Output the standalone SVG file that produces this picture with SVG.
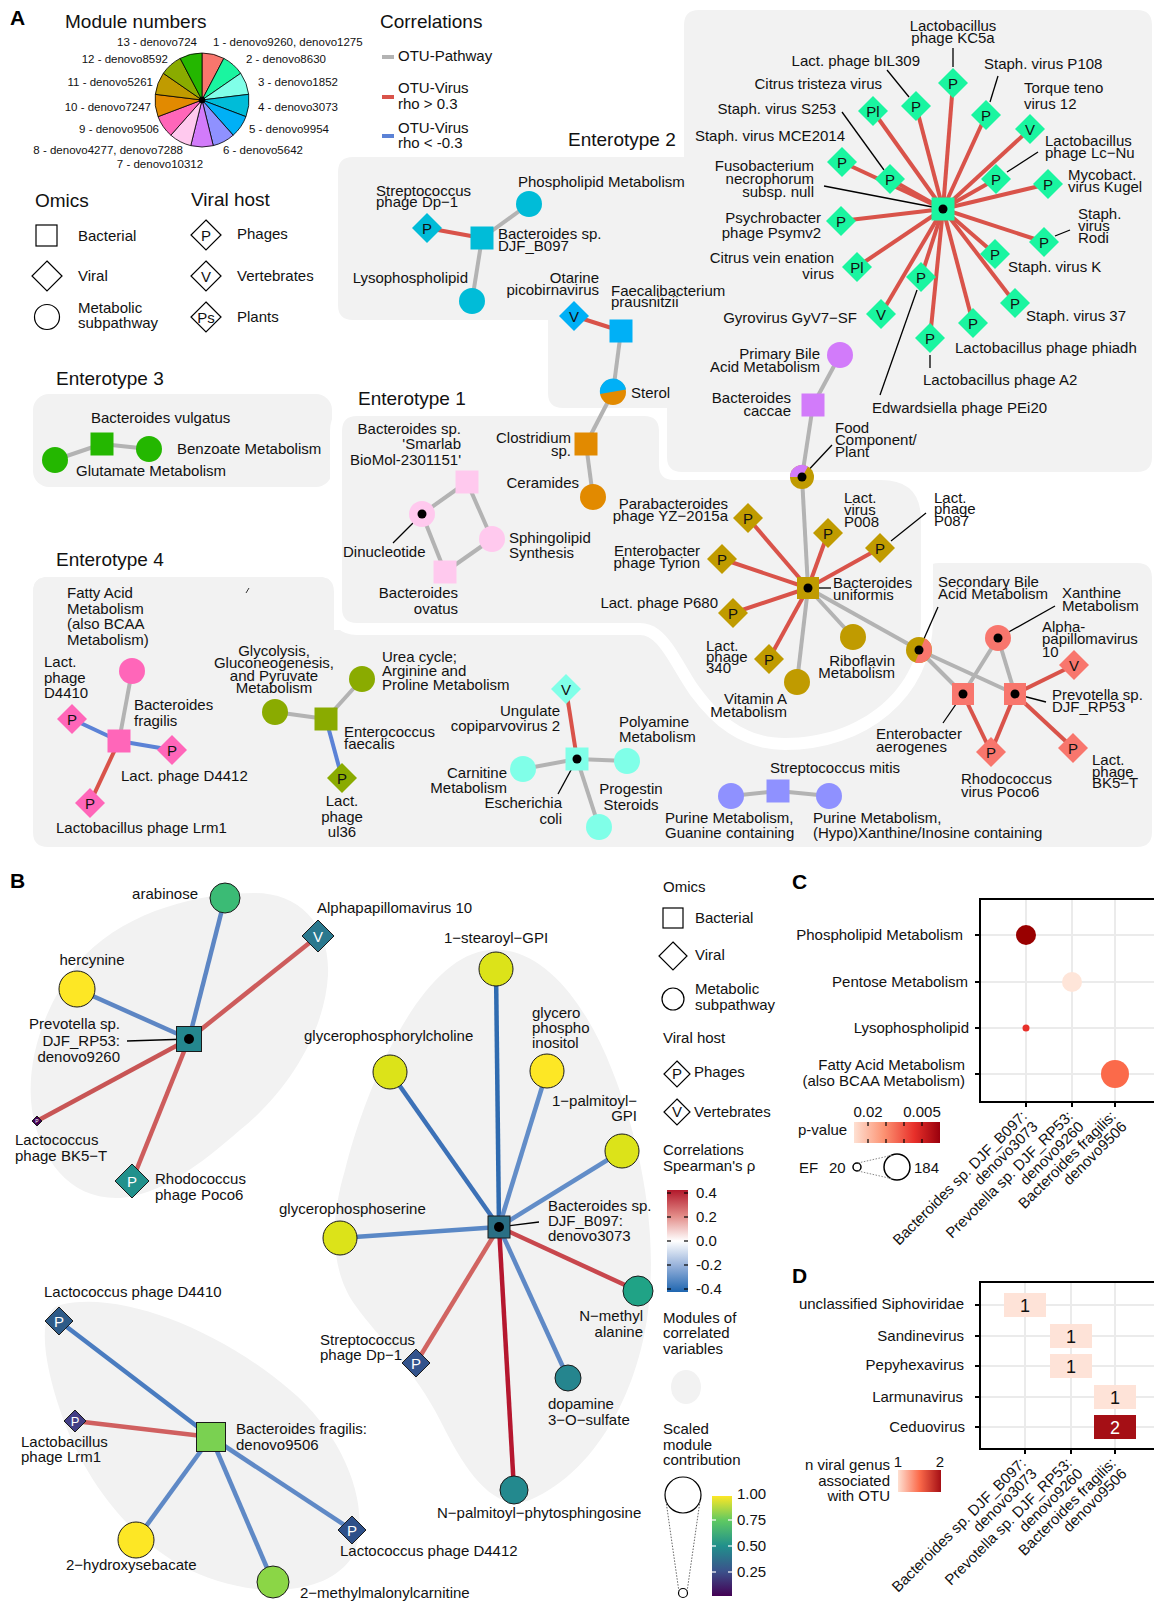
<svg xmlns="http://www.w3.org/2000/svg" width="1154" height="1603" viewBox="0 0 1154 1603">
<defs>
<style>
text{font-family:"Liberation Sans",Arial,Helvetica,sans-serif;fill:#111;font-size:15px}
.s11{font-size:11.5px}
.s19{font-size:19px}
.s18{font-size:18px}
.hd{font-size:21px;font-weight:bold;fill:#000}
.m{text-anchor:middle}
.e{text-anchor:end}
.bg{fill:#F2F2F2}
.eg{stroke:#B3B3B3;stroke-width:4}
.er{stroke:#D9534A;stroke-width:4}
.eb{stroke:#5B82D6;stroke-width:4}
.ld{stroke:#000;stroke-width:1.3;fill:none}
.lg{fill:#fff;stroke:#000;stroke-width:1.2}
.ol{stroke:#1a1a1a;stroke-width:1}
.wt{fill:#fff;text-anchor:middle}
.grid{stroke:#EBEBEB;stroke-width:2}
.c1{fill:#F8766D}.c2{fill:#1AF5A0}.c3{fill:#80FFE8}.c4{fill:#00BCD8}.c5{fill:#00B0F6}.c6{fill:#8F91FF}.c7{fill:#D27BFA}.c8{fill:#FFC9EE}.c9{fill:#FF66B9}.c10{fill:#E28A00}.c11{fill:#C09B00}.c12{fill:#8AAB00}.c13{fill:#24B700}
</style>
<path id="e1p" d="M357,416 L644,416 Q659,416 659,431 L659,465 Q659,480 674,480 L881,480 Q921,480 921,520 L921,620 C921,690 860,738 785,738 C745,738 720,715 700,688 C680,660 668,623 640,623 L357,623 Q342,623 342,608 L342,431 Q342,416 357,416 Z"/>
<linearGradient id="rb" x1="0" y1="0" x2="0" y2="1"><stop offset="0" stop-color="#B2182B"/><stop offset="0.25" stop-color="#E28A86"/><stop offset="0.5" stop-color="#FFFFFF"/><stop offset="0.75" stop-color="#93AFD9"/><stop offset="1" stop-color="#1F66B0"/></linearGradient>
<linearGradient id="vir" x1="0" y1="1" x2="0" y2="0"><stop offset="0" stop-color="#440154"/><stop offset="0.25" stop-color="#3B528B"/><stop offset="0.5" stop-color="#21908C"/><stop offset="0.75" stop-color="#5DC863"/><stop offset="1" stop-color="#FDE725"/></linearGradient>
<linearGradient id="pv" x1="0" y1="0" x2="1" y2="0"><stop offset="0" stop-color="#FEE0D2"/><stop offset="0.35" stop-color="#FC9272"/><stop offset="0.7" stop-color="#E8302A"/><stop offset="1" stop-color="#99000D"/></linearGradient>
<linearGradient id="nv" x1="0" y1="0" x2="1" y2="0"><stop offset="0" stop-color="#FEE0D2"/><stop offset="0.5" stop-color="#FB6A4A"/><stop offset="1" stop-color="#A50F15"/></linearGradient>
</defs>
<rect width="1154" height="1603" fill="#fff"/>

<!-- ===== Panel A backgrounds ===== -->
<g id="enterotype-backgrounds">
<path class="bg" d="M48,577 L319,577 Q334,577 334,592 L334,630 L924,630 L924,578 Q924,563 939,563 L1137,563 Q1152,563 1152,578 L1152,832 Q1152,847 1137,847 L48,847 Q33,847 33,832 L33,592 Q33,577 48,577 Z"/>
<rect class="bg" x="33" y="394" width="299" height="93" rx="16"/>
<use href="#e1p" fill="#F2F2F2" stroke="#fff" stroke-width="24"/>
<use href="#e1p" fill="#F2F2F2"/>
<path class="bg" d="M48,577 L319,577 Q334,577 334,592 L334,700 L33,700 L33,592 Q33,577 48,577 Z"/>
<path class="bg" d="M353,157 L684,157 L684,25 Q684,10 699,10 L1137,10 Q1152,10 1152,25 L1152,457 Q1152,472 1137,472 L682,472 Q667,472 667,457 L667,408 L563,408 Q548,408 548,393 L548,320 L353,320 Q338,320 338,305 L338,172 Q338,157 353,157 Z"/>
<line x1="246" y1="593" x2="249" y2="588" stroke="#333" stroke-width="1"/>
</g>

<!-- ===== Panel A titles and legends ===== -->
<g id="legend-A">
<text class="hd" x="10" y="25">A</text>
<text class="s19" x="65" y="28">Module numbers</text>
<g id="pie" stroke="#000" stroke-width="0.8">
<path class="c1" d="M202,100L202,53A47,47 0 0,1 223.84,58.38Z"/>
<path class="c2" d="M202,100L223.84,58.38A47,47 0 0,1 240.68,73.3Z"/>
<path class="c3" d="M202,100L240.68,73.3A47,47 0 0,1 248.66,94.34Z"/>
<path class="c4" d="M202,100L248.66,94.34A47,47 0 0,1 245.95,116.67Z"/>
<path class="c5" d="M202,100L245.95,116.67A47,47 0 0,1 233.17,135.18Z"/>
<path class="c6" d="M202,100L233.17,135.18A47,47 0 0,1 213.25,145.63Z"/>
<path class="c7" d="M202,100L213.25,145.63A47,47 0 0,1 190.75,145.63Z"/>
<path class="c8" d="M202,100L190.75,145.63A47,47 0 0,1 170.83,135.18Z"/>
<path class="c9" d="M202,100L170.83,135.18A47,47 0 0,1 158.05,116.67Z"/>
<path class="c10" d="M202,100L158.05,116.67A47,47 0 0,1 155.34,94.34Z"/>
<path class="c11" d="M202,100L155.34,94.34A47,47 0 0,1 163.32,73.3Z"/>
<path class="c12" d="M202,100L163.32,73.3A47,47 0 0,1 180.16,58.38Z"/>
<path class="c13" d="M202,100L180.16,58.38A47,47 0 0,1 202,53Z"/>
<circle cx="202" cy="100" r="3" fill="#000"/>
</g>
<text class="s11 e" x="197" y="46">13 - denovo724</text>
<text class="s11" x="213" y="46">1 - denovo9260, denovo1275</text>
<text class="s11 e" x="168" y="63">12 - denovo8592</text>
<text class="s11" x="246" y="63">2 - denovo8630</text>
<text class="s11 e" x="153" y="86">11 - denovo5261</text>
<text class="s11" x="258" y="86">3 - denovo1852</text>
<text class="s11 e" x="151" y="111">10 - denovo7247</text>
<text class="s11" x="258" y="111">4 - denovo3073</text>
<text class="s11 e" x="159" y="133">9 - denovo9506</text>
<text class="s11" x="249" y="133">5 - denovo9954</text>
<text class="s11 e" x="183" y="154">8 - denovo4277, denovo7288</text>
<text class="s11" x="223" y="154">6 - denovo5642</text>
<text class="s11 m" x="160" y="168">7 - denovo10312</text>

<text class="s19" x="380" y="28">Correlations</text>
<line x1="382" y1="57" x2="394" y2="57" class="eg"/>
<text x="398" y="61">OTU-Pathway</text>
<line x1="382" y1="97" x2="394" y2="97" class="er"/>
<text x="398" y="93">OTU-Virus<tspan x="398" y="109">rho &gt; 0.3</tspan></text>
<line x1="382" y1="136" x2="394" y2="136" class="eb"/>
<text x="398" y="133">OTU-Virus<tspan x="398" y="148">rho &lt; -0.3</tspan></text>

<text class="s19" x="35" y="207">Omics</text>
<rect class="lg" x="36" y="225" width="21" height="21"/>
<text x="78" y="241">Bacterial</text>
<path class="lg" d="M47,261l15,15-15,15-15-15z"/>
<text x="78" y="281">Viral</text>
<circle class="lg" cx="47" cy="317" r="12.5"/>
<text x="78" y="313">Metabolic<tspan x="78" y="328">subpathway</tspan></text>
<text class="s19" x="191" y="206">Viral host</text>
<path class="lg" d="M206,220l15,15-15,15-15-15z"/>
<text class="m" x="206" y="240.5">P</text>
<text x="237" y="239">Phages</text>
<path class="lg" d="M206,261l15,15-15,15-15-15z"/>
<text class="m" x="206" y="281.5">V</text>
<text x="237" y="281">Vertebrates</text>
<path class="lg" d="M206,302l15,15-15,15-15-15z"/>
<text class="m" x="206" y="322.5">Ps</text>
<text x="237" y="322">Plants</text>

<text class="s19" x="56" y="385">Enterotype 3</text>
<text class="s19" x="568" y="146">Enterotype 2</text>
<text class="s19" x="358" y="405">Enterotype 1</text>
<text class="s19" x="56" y="566">Enterotype 4</text>
</g>

<!-- ===== Panel A connectors ===== -->
<g id="connectors-A">
<line class="eg" x1="102" y1="444" x2="55" y2="460"/>
<line class="eg" x1="102" y1="444" x2="149" y2="449"/>
<line class="er" x1="427" y1="228" x2="482" y2="238"/>
<line class="eg" x1="482" y1="238" x2="529" y2="204"/>
<line class="eg" x1="482" y1="238" x2="472" y2="301"/>
<line class="er" x1="574" y1="316" x2="621" y2="331"/>
<line class="eg" x1="621" y1="331" x2="613" y2="392"/>
<line class="eg" x1="613" y1="392" x2="586" y2="444"/>
<line class="eg" x1="586" y1="444" x2="593" y2="497"/>
<g class="er">
<line x1="943" y1="209" x2="953" y2="83"/>
<line x1="943" y1="209" x2="916" y2="106"/>
<line x1="943" y1="209" x2="873" y2="111"/>
<line x1="943" y1="209" x2="986" y2="115"/>
<line x1="943" y1="209" x2="1030" y2="129"/>
<line x1="943" y1="209" x2="842" y2="162"/>
<line x1="943" y1="209" x2="890" y2="179"/>
<line x1="943" y1="209" x2="996" y2="179"/>
<line x1="943" y1="209" x2="1048" y2="184"/>
<line x1="943" y1="209" x2="841" y2="221"/>
<line x1="943" y1="209" x2="1044" y2="242"/>
<line x1="943" y1="209" x2="857" y2="267"/>
<line x1="943" y1="209" x2="995" y2="254"/>
<line x1="943" y1="209" x2="921" y2="277"/>
<line x1="943" y1="209" x2="881" y2="314"/>
<line x1="943" y1="209" x2="1015" y2="303"/>
<line x1="943" y1="209" x2="973" y2="323"/>
<line x1="943" y1="209" x2="930" y2="338"/>
</g>
<line class="eg" x1="840" y1="355" x2="813" y2="405"/>
<line class="eg" x1="813" y1="405" x2="802" y2="477"/>
<line class="eg" x1="802" y1="477" x2="808" y2="588"/>
<line class="eg" x1="422" y1="514" x2="467" y2="482"/>
<line class="eg" x1="467" y1="482" x2="492" y2="539"/>
<line class="eg" x1="492" y1="539" x2="445" y2="572"/>
<line class="eg" x1="445" y1="572" x2="422" y2="514"/>
<g class="er">
<line x1="808" y1="588" x2="748" y2="518"/>
<line x1="808" y1="588" x2="828" y2="533"/>
<line x1="808" y1="588" x2="880" y2="548"/>
<line x1="808" y1="588" x2="722" y2="559"/>
<line x1="808" y1="588" x2="733" y2="613"/>
<line x1="808" y1="588" x2="769" y2="659"/>
</g>
<line class="eg" x1="808" y1="588" x2="797" y2="682"/>
<line class="eg" x1="808" y1="588" x2="853" y2="637"/>
<line class="eg" x1="808" y1="588" x2="919" y2="650"/>
<line class="eg" x1="919" y1="650" x2="963" y2="694"/>
<line class="eg" x1="919" y1="650" x2="1015" y2="694"/>
<line class="eg" x1="998" y1="638" x2="963" y2="694"/>
<line class="eg" x1="998" y1="638" x2="1015" y2="694"/>
<line class="er" x1="1015" y1="694" x2="1074" y2="665"/>
<line class="er" x1="1015" y1="694" x2="991" y2="752"/>
<line class="er" x1="1015" y1="694" x2="1073" y2="748"/>
<line class="er" x1="963" y1="694" x2="991" y2="752"/>
<line class="eg" x1="731" y1="796" x2="778" y2="791"/>
<line class="eg" x1="778" y1="791" x2="829" y2="796"/>
<line class="er" x1="566" y1="689" x2="577" y2="759"/>
<line class="eg" x1="577" y1="759" x2="523" y2="769"/>
<line class="eg" x1="577" y1="759" x2="627" y2="761"/>
<line class="eg" x1="577" y1="759" x2="599" y2="827"/>
<line class="eg" x1="326" y1="719" x2="275" y2="712"/>
<line class="eg" x1="326" y1="719" x2="362" y2="679"/>
<line class="eb" x1="326" y1="719" x2="342" y2="778"/>
<line class="eg" x1="119" y1="741" x2="132" y2="671"/>
<line class="eb" x1="119" y1="741" x2="72" y2="719"/>
<line class="eb" x1="119" y1="741" x2="172" y2="750"/>
<line class="er" x1="119" y1="741" x2="90" y2="803"/>
<!-- leader lines -->
<g class="ld">
<line x1="953" y1="48" x2="953" y2="67"/>
<line x1="887" y1="70" x2="909" y2="97"/>
<line x1="998" y1="76" x2="990" y2="102"/>
<line x1="842" y1="112" x2="884" y2="170"/>
<line x1="824" y1="186" x2="943" y2="209"/>
<line x1="1038" y1="152" x2="1007" y2="172"/>
<line x1="1055" y1="236" x2="1070" y2="230"/>
<line x1="917" y1="290" x2="880" y2="395"/>
<line x1="930" y1="355" x2="930" y2="368"/>
<line x1="832" y1="445" x2="802" y2="477"/>
<line x1="422" y1="514" x2="393" y2="543"/>
<line x1="577" y1="759" x2="558" y2="794"/>
<line x1="808" y1="588" x2="831" y2="588"/>
<line x1="919" y1="650" x2="938" y2="607"/>
<line x1="998" y1="638" x2="1055" y2="606"/>
<line x1="963" y1="694" x2="943" y2="723"/>
<line x1="1015" y1="694" x2="1046" y2="702"/>
<line x1="891" y1="541" x2="926" y2="513"/>
</g>
</g>

<!-- ===== Panel A nodes ===== -->
<g id="nodes-A">
<g id="n-vulgatus"><rect class="c13" x="90.5" y="432.5" width="23" height="23"/><text x="91" y="423">Bacteroides vulgatus</text></g>
<g id="n-glutamate"><circle class="c13" cx="55" cy="460" r="13"/><text x="76" y="476">Glutamate Metabolism</text></g>
<g id="n-benzoate"><circle class="c13" cx="149" cy="449" r="13"/><text x="177" y="454">Benzoate Metabolism</text></g>

<g id="n-dp1"><path class="c4" d="M427,213l15,15-15,15-15-15z"/><text class="m" x="427" y="233.5">P</text><text x="376" y="196">Streptococcus<tspan x="376" y="207">phage Dp−1</tspan></text></g>
<g id="n-b097"><rect class="c4" x="470.5" y="226.5" width="23" height="23"/><text x="498" y="239">Bacteroides sp.<tspan x="498" y="251">DJF_B097</tspan></text></g>
<g id="n-phospho"><circle class="c4" cx="529" cy="204" r="13"/><text x="518" y="187">Phospholipid Metabolism</text></g>
<g id="n-lyso"><circle class="c4" cx="472" cy="301" r="13"/><text class="e" x="468" y="283">Lysophospholipid</text></g>
<g id="n-otarine"><path class="c5" d="M574,301l15,15-15,15-15-15z"/><text class="m" x="574" y="321.5">V</text><text class="e" x="599" y="283">Otarine<tspan x="599" y="295">picobirnavirus</tspan></text></g>
<g id="n-faecali"><rect class="c5" x="609.5" y="319.5" width="23" height="23"/><text x="611" y="296">Faecalibacterium<tspan x="611" y="307">prausnitzii</tspan></text></g>
<g id="n-sterol"><circle class="c10" cx="613" cy="392" r="13"/><path class="c5" d="M600,394A13,13 0 0,1 626,389.5Z"/><text x="631" y="398">Sterol</text></g>
<g id="n-clostridium"><rect class="c10" x="574.5" y="432.5" width="23" height="23"/><text class="e" x="571" y="443">Clostridium<tspan x="571" y="456">sp.</tspan></text></g>
<g id="n-ceramides"><circle class="c10" cx="593" cy="497" r="13"/><text class="e" x="579" y="488">Ceramides</text></g>

<g id="n-fuso"><rect class="c2" x="931.5" y="197.5" width="23" height="23"/><circle cx="943" cy="209" r="4.5" fill="#000"/><text class="e" x="814" y="171">Fusobacterium<tspan x="814" y="184">necrophorum</tspan><tspan x="814" y="197">subsp. null</tspan></text></g>
<g id="n-kc5a"><path class="c2" d="M953,68l15,15-15,15-15-15z"/><text class="m" x="953" y="88.5">P</text><text class="m" x="953" y="31">Lactobacillus<tspan x="953" y="43">phage KC5a</tspan></text></g>
<g id="n-bil309"><path class="c2" d="M916,91l15,15-15,15-15-15z"/><text class="m" x="916" y="111.5">P</text><text class="e" x="920" y="66">Lact. phage bIL309</text></g>
<g id="n-ctv"><path class="c2" d="M873,96l15,15-15,15-15-15z"/><text class="m" x="873" y="116.5">Pl</text><text class="e" x="882" y="89">Citrus tristeza virus</text></g>
<g id="n-p108"><path class="c2" d="M986,100l15,15-15,15-15-15z"/><text class="m" x="986" y="120.5">P</text><text x="984" y="69">Staph. virus P108</text></g>
<g id="n-ttv"><path class="c2" d="M1030,114l15,15-15,15-15-15z"/><text class="m" x="1030" y="134.5">V</text><text x="1024" y="93">Torque teno<tspan x="1024" y="109">virus 12</tspan></text></g>
<g id="n-mce"><path class="c2" d="M842,147l15,15-15,15-15-15z"/><text class="m" x="842" y="167.5">P</text><text class="e" x="845" y="141">Staph. virus MCE2014</text></g>
<g id="n-s253"><path class="c2" d="M890,164l15,15-15,15-15-15z"/><text class="m" x="890" y="184.5">P</text><text class="e" x="836" y="114">Staph. virus S253</text></g>
<g id="n-lcnu"><path class="c2" d="M996,164l15,15-15,15-15-15z"/><text class="m" x="996" y="184.5">P</text><text x="1045" y="146">Lactobacillus<tspan x="1045" y="158">phage Lc−Nu</tspan></text></g>
<g id="n-kugel"><path class="c2" d="M1048,169l15,15-15,15-15-15z"/><text class="m" x="1048" y="189.5">P</text><text x="1068" y="180">Mycobact.<tspan x="1068" y="192">virus Kugel</tspan></text></g>
<g id="n-psymv2"><path class="c2" d="M841,206l15,15-15,15-15-15z"/><text class="m" x="841" y="226.5">P</text><text class="e" x="821" y="223">Psychrobacter<tspan x="821" y="238">phage Psymv2</tspan></text></g>
<g id="n-rodi"><path class="c2" d="M1044,227l15,15-15,15-15-15z"/><text class="m" x="1044" y="247.5">P</text><text x="1078" y="219">Staph.<tspan x="1078" y="231">virus</tspan><tspan x="1078" y="243">Rodi</tspan></text></g>
<g id="n-cvev"><path class="c2" d="M857,252l15,15-15,15-15-15z"/><text class="m" x="857" y="272.5">Pl</text><text class="e" x="834" y="263">Citrus vein enation<tspan x="834" y="279">virus</tspan></text></g>
<g id="n-staphk"><path class="c2" d="M995,239l15,15-15,15-15-15z"/><text class="m" x="995" y="259.5">P</text><text x="1008" y="272">Staph. virus K</text></g>
<g id="n-pei20"><path class="c2" d="M921,262l15,15-15,15-15-15z"/><text class="m" x="921" y="282.5">P</text><text x="872" y="413">Edwardsiella phage PEi20</text></g>
<g id="n-gyv"><path class="c2" d="M881,299l15,15-15,15-15-15z"/><text class="m" x="881" y="319.5">V</text><text class="e" x="857" y="323">Gyrovirus GyV7−SF</text></g>
<g id="n-s37"><path class="c2" d="M1015,288l15,15-15,15-15-15z"/><text class="m" x="1015" y="308.5">P</text><text x="1026" y="321">Staph. virus 37</text></g>
<g id="n-phiadh"><path class="c2" d="M973,308l15,15-15,15-15-15z"/><text class="m" x="973" y="328.5">P</text><text x="955" y="353">Lactobacillus phage phiadh</text></g>
<g id="n-a2"><path class="c2" d="M930,323l15,15-15,15-15-15z"/><text class="m" x="930" y="343.5">P</text><text x="923" y="385">Lactobacillus phage A2</text></g>

<g id="n-primbile"><circle class="c7" cx="840" cy="355" r="13"/><text class="e" x="820" y="359">Primary Bile<tspan x="820" y="372">Acid Metabolism</tspan></text></g>
<g id="n-caccae"><rect class="c7" x="801.5" y="393.5" width="23" height="23"/><text class="e" x="791" y="403">Bacteroides<tspan x="791" y="416">caccae</tspan></text></g>
<g id="n-food"><circle class="c11" cx="802" cy="477" r="12"/><path class="c7" d="M802,477L790,477A12,12 0 0,1 808,466.6Z"/><circle cx="802" cy="477" r="4.5" fill="#000"/><text x="835" y="433">Food<tspan x="835" y="445">Component/</tspan><tspan x="835" y="457">Plant</tspan></text></g>

<g id="n-smarlab"><rect class="c8" x="455.5" y="470.5" width="23" height="23"/><text class="e" x="461" y="434">Bacteroides sp.<tspan x="461" y="449">'Smarlab</tspan><tspan x="461" y="465">BioMol-2301151'</tspan></text></g>
<g id="n-dinuc"><circle class="c8" cx="422" cy="514" r="13"/><circle cx="422" cy="514" r="4.5" fill="#000"/><text x="343" y="557">Dinucleotide</text></g>
<g id="n-sphingo"><circle class="c8" cx="492" cy="539" r="13"/><text x="509" y="543">Sphingolipid<tspan x="509" y="558">Synthesis</tspan></text></g>
<g id="n-ovatus"><rect class="c8" x="433.5" y="560.5" width="23" height="23"/><text class="e" x="458" y="598">Bacteroides<tspan x="458" y="614">ovatus</tspan></text></g>

<g id="n-uniformis"><rect class="c11" x="797" y="577" width="22" height="22"/><circle cx="808" cy="588" r="4.5" fill="#000"/><text x="833" y="588">Bacteroides<tspan x="833" y="600">uniformis</tspan></text></g>
<g id="n-yz2015a"><path class="c11" d="M748,503l15,15-15,15-15-15z"/><text class="m" x="748" y="523.5">P</text><text class="e" x="728" y="509">Parabacteroides<tspan x="728" y="521">phage YZ−2015a</tspan></text></g>
<g id="n-p008"><path class="c11" d="M828,518l15,15-15,15-15-15z"/><text class="m" x="828" y="538.5">P</text><text x="844" y="503">Lact.<tspan x="844" y="515">virus</tspan><tspan x="844" y="527">P008</tspan></text></g>
<g id="n-p087"><path class="c11" d="M880,533l15,15-15,15-15-15z"/><text class="m" x="880" y="553.5">P</text><text x="934" y="503">Lact.<tspan x="934" y="514">phage</tspan><tspan x="934" y="526">P087</tspan></text></g>
<g id="n-tyrion"><path class="c11" d="M722,544l15,15-15,15-15-15z"/><text class="m" x="722" y="564.5">P</text><text class="e" x="700" y="556">Enterobacter<tspan x="700" y="568">phage Tyrion</tspan></text></g>
<g id="n-p680"><path class="c11" d="M733,598l15,15-15,15-15-15z"/><text class="m" x="733" y="618.5">P</text><text class="e" x="718" y="608">Lact. phage P680</text></g>
<g id="n-340"><path class="c11" d="M769,644l15,15-15,15-15-15z"/><text class="m" x="769" y="664.5">P</text><text x="706" y="651">Lact.<tspan x="706" y="662">phage</tspan><tspan x="706" y="673">340</tspan></text></g>
<g id="n-ribo"><circle class="c11" cx="853" cy="637" r="13"/><text class="e" x="895" y="666">Riboflavin<tspan x="895" y="678">Metabolism</tspan></text></g>
<g id="n-vitA"><circle class="c11" cx="797" cy="682" r="13"/><text class="e" x="787" y="704">Vitamin A<tspan x="787" y="717">Metabolism</tspan></text></g>

<g id="n-secbile"><circle class="c11" cx="919" cy="650" r="13"/><path class="c1" d="M925,638.5A13,13 0 0,1 915,662.4Z"/><circle cx="919" cy="650" r="4.5" fill="#000"/><text x="938" y="587">Secondary Bile<tspan x="938" y="599">Acid Metabolism</tspan></text></g>
<g id="n-xanthine"><circle class="c1" cx="998" cy="638" r="13"/><circle cx="998" cy="638" r="4.5" fill="#000"/><text x="1062" y="598">Xanthine<tspan x="1062" y="611">Metabolism</tspan></text></g>
<g id="n-alpha"><path class="c1" d="M1074,650l15,15-15,15-15-15z"/><text class="m" x="1074" y="670.5">V</text><text x="1042" y="632">Alpha-<tspan x="1042" y="644">papillomavirus</tspan><tspan x="1042" y="657">10</tspan></text></g>
<g id="n-aerogenes"><rect class="c1" x="952" y="683" width="22" height="22"/><circle cx="963" cy="694" r="4.5" fill="#000"/><text x="876" y="739">Enterobacter<tspan x="876" y="752">aerogenes</tspan></text></g>
<g id="n-prevotella"><rect class="c1" x="1004" y="683" width="22" height="22"/><circle cx="1015" cy="694" r="4.5" fill="#000"/><text x="1052" y="700">Prevotella sp.<tspan x="1052" y="712">DJF_RP53</tspan></text></g>
<g id="n-poco6"><path class="c1" d="M991,737l15,15-15,15-15-15z"/><text class="m" x="991" y="757.5">P</text><text x="961" y="784">Rhodococcus<tspan x="961" y="797">virus Poco6</tspan></text></g>
<g id="n-bk5t"><path class="c1" d="M1073,733l15,15-15,15-15-15z"/><text class="m" x="1073" y="753.5">P</text><text x="1092" y="765">Lact.<tspan x="1092" y="777">phage</tspan><tspan x="1092" y="788">BK5−T</tspan></text></g>

<g id="n-mitis"><rect class="c6" x="766.5" y="779.5" width="23" height="23"/><text x="770" y="773">Streptococcus mitis</text></g>
<g id="n-purg"><circle class="c6" cx="731" cy="796" r="13"/><text x="665" y="823">Purine Metabolism,<tspan x="665" y="838">Guanine containing</tspan></text></g>
<g id="n-purx"><circle class="c6" cx="829" cy="796" r="13"/><text x="813" y="823">Purine Metabolism,<tspan x="813" y="838">(Hypo)Xanthine/Inosine containing</tspan></text></g>

<g id="n-ecoli"><rect class="c3" x="565.5" y="747.5" width="23" height="23"/><circle cx="577" cy="759" r="4.5" fill="#000"/><text class="e" x="562" y="808">Escherichia<tspan x="562" y="824">coli</tspan></text></g>
<g id="n-ungulate"><path class="c3" d="M566,674l15,15-15,15-15-15z"/><text class="m" x="566" y="694.5">V</text><text class="e" x="560" y="716">Ungulate<tspan x="560" y="731">copiparvovirus 2</tspan></text></g>
<g id="n-carnitine"><circle class="c3" cx="523" cy="769" r="13"/><text class="e" x="507" y="778">Carnitine<tspan x="507" y="793">Metabolism</tspan></text></g>
<g id="n-polyamine"><circle class="c3" cx="627" cy="761" r="13"/><text x="619" y="727">Polyamine<tspan x="619" y="742">Metabolism</tspan></text></g>
<g id="n-progestin"><circle class="c3" cx="599" cy="827" r="13"/><text class="m" x="631" y="794">Progestin<tspan x="631" y="810">Steroids</tspan></text></g>

<g id="n-enterococcus"><rect class="c12" x="314.5" y="707.5" width="23" height="23"/><text x="344" y="737">Enterococcus<tspan x="344" y="749">faecalis</tspan></text></g>
<g id="n-glycolysis"><circle class="c12" cx="275" cy="712" r="13"/><text class="m" x="274" y="656">Glycolysis,<tspan x="274" y="668">Gluconeogenesis,</tspan><tspan x="274" y="681">and Pyruvate</tspan><tspan x="274" y="693">Metabolism</tspan></text></g>
<g id="n-urea"><circle class="c12" cx="362" cy="679" r="13"/><text x="382" y="662">Urea cycle;<tspan x="382" y="676">Arginine and</tspan><tspan x="382" y="690">Proline Metabolism</tspan></text></g>
<g id="n-ul36"><path class="c12" d="M342,763l15,15-15,15-15-15z"/><text class="m" x="342" y="783.5">P</text><text class="m" x="342" y="806">Lact.<tspan x="342" y="822">phage</tspan><tspan x="342" y="837">ul36</tspan></text></g>

<g id="n-fragilis"><rect class="c9" x="107.5" y="729.5" width="23" height="23"/><text x="134" y="710">Bacteroides<tspan x="134" y="726">fragilis</tspan></text></g>
<g id="n-fatty"><circle class="c9" cx="132" cy="671" r="13"/><text x="67" y="598">Fatty Acid<tspan x="67" y="614">Metabolism</tspan><tspan x="67" y="629">(also BCAA</tspan><tspan x="67" y="645">Metabolism)</tspan></text></g>
<g id="n-d4410"><path class="c9" d="M72,704l15,15-15,15-15-15z"/><text class="m" x="72" y="724.5">P</text><text x="44" y="667">Lact.<tspan x="44" y="683">phage</tspan><tspan x="44" y="698">D4410</tspan></text></g>
<g id="n-d4412"><path class="c9" d="M172,735l15,15-15,15-15-15z"/><text class="m" x="172" y="755.5">P</text><text x="121" y="781">Lact. phage D4412</text></g>
<g id="n-lrm1"><path class="c9" d="M90,788l15,15-15,15-15-15z"/><text class="m" x="90" y="808.5">P</text><text x="56" y="833">Lactobacillus phage Lrm1</text></g>
</g>

<!-- ===== Panel B ===== -->
<g id="panel-B">
<text class="hd" x="10" y="888">B</text>
<g id="hulls" class="bg">
<path d="M255,893 C300,893 330,925 328,975 C325,1030 290,1090 240,1130 C200,1165 160,1195 120,1198 C70,1200 40,1160 32,1110 C25,1060 45,1000 85,955 C130,910 200,893 255,893 Z"/>
<path d="M490,950 C540,945 585,1000 612,1070 C640,1140 655,1220 650,1290 C645,1380 600,1470 530,1500 C490,1515 460,1460 440,1420 C415,1370 380,1340 355,1305 C330,1270 330,1220 345,1170 C365,1090 420,955 490,950 Z"/>
<path d="M60,1305 C120,1290 220,1330 290,1390 C350,1440 375,1520 350,1560 C320,1600 240,1598 180,1565 C120,1530 80,1470 60,1410 C45,1365 35,1312 60,1305 Z"/>
</g>
<g id="connectors-B" stroke-width="4.5">
<line x1="189" y1="1039" x2="225" y2="898" stroke="#5D86C4"/>
<line x1="189" y1="1039" x2="77" y2="989" stroke="#5D86C4"/>
<line x1="189" y1="1039" x2="318" y2="936" stroke="#CD5C5C"/>
<line x1="189" y1="1039" x2="37" y2="1121" stroke="#C85555"/>
<line x1="189" y1="1039" x2="132" y2="1181" stroke="#CD5C5C"/>
<line x1="499" y1="1227" x2="496" y2="969" stroke="#2F6BB0"/>
<line x1="499" y1="1227" x2="390" y2="1072" stroke="#3C71B7"/>
<line x1="499" y1="1227" x2="547" y2="1071" stroke="#628DC8"/>
<line x1="499" y1="1227" x2="622" y2="1151" stroke="#628DC8"/>
<line x1="499" y1="1227" x2="340" y2="1238" stroke="#5A88C6"/>
<line x1="499" y1="1227" x2="638" y2="1291" stroke="#C8474D"/>
<line x1="499" y1="1227" x2="416" y2="1363" stroke="#D16461"/>
<line x1="499" y1="1227" x2="514" y2="1490" stroke="#B5172F"/>
<line x1="499" y1="1227" x2="568" y2="1378" stroke="#5F89C6"/>
<line x1="211" y1="1437" x2="59" y2="1321" stroke="#4A7CC0"/>
<line x1="211" y1="1437" x2="75" y2="1421" stroke="#D06060"/>
<line x1="211" y1="1437" x2="136" y2="1540" stroke="#5F89C6"/>
<line x1="211" y1="1437" x2="273" y2="1582" stroke="#5F89C6"/>
<line x1="211" y1="1437" x2="352" y2="1530" stroke="#5F89C6"/>
<line class="ld" x1="127" y1="1041" x2="189" y2="1039"/>
<line class="ld" x1="499" y1="1227" x2="539" y2="1222"/>
</g>
<g id="nodes-B">
<g id="b-prevotella"><rect class="ol" x="176.5" y="1026.5" width="25" height="25" fill="#24878E"/><circle cx="189" cy="1039" r="5" fill="#000"/><text class="e" x="120" y="1029">Prevotella sp.<tspan x="120" y="1046">DJF_RP53:</tspan><tspan x="120" y="1062">denovo9260</tspan></text></g>
<g id="b-arabinose"><circle class="ol" cx="225" cy="898" r="15" fill="#3BBB75"/><text class="e" x="198" y="899">arabinose</text></g>
<g id="b-hercynine"><circle class="ol" cx="77" cy="989" r="18" fill="#FDE725"/><text class="m" x="92" y="965">hercynine</text></g>
<g id="b-alpha"><path class="ol" fill="#2A788E" d="M318,920l16,16-16,16-16-16z"/><text class="wt" x="318" y="941.5">V</text><text x="317" y="913">Alphapapillomavirus 10</text></g>
<g id="b-bk5t"><path class="ol" fill="#440154" stroke-width="0.6" d="M37,1116l5,5-5,5-5-5z"/><text class="wt" x="37" y="1123" style="font-size:5px">P</text><text x="15" y="1145">Lactococcus<tspan x="15" y="1161">phage BK5−T</tspan></text></g>
<g id="b-poco6"><path class="ol" fill="#21918C" d="M132,1164l17,17-17,17-17-17z"/><text class="wt" x="132" y="1186.5">P</text><text x="155" y="1184">Rhodococcus<tspan x="155" y="1200">phage Poco6</tspan></text></g>

<g id="b-b097"><rect class="ol" x="488" y="1216" width="22" height="22" fill="#2A6F85"/><circle cx="499" cy="1227" r="5" fill="#000"/><text x="548" y="1211">Bacteroides sp.<tspan x="548" y="1226">DJF_B097:</tspan><tspan x="548" y="1241">denovo3073</tspan></text></g>
<g id="b-stearoyl"><circle class="ol" cx="496" cy="969" r="17" fill="#DCE319"/><text class="m" x="496" y="943">1−stearoyl−GPI</text></g>
<g id="b-gpc"><circle class="ol" cx="390" cy="1072" r="17" fill="#DCE319"/><text x="304" y="1041">glycerophosphorylcholine</text></g>
<g id="b-gpi"><circle class="ol" cx="547" cy="1071" r="17" fill="#FDE725"/><text x="532" y="1018">glycero<tspan x="532" y="1033">phospho</tspan><tspan x="532" y="1048">inositol</tspan></text></g>
<g id="b-palmitoyl"><circle class="ol" cx="622" cy="1151" r="17" fill="#DCE319"/><text class="e" x="637" y="1106">1−palmitoyl−<tspan x="637" y="1121">GPI</tspan></text></g>
<g id="b-gps"><circle class="ol" cx="340" cy="1238" r="17" fill="#DCE319"/><text x="279" y="1214">glycerophosphoserine</text></g>
<g id="b-nmethyl"><circle class="ol" cx="638" cy="1291" r="15" fill="#20A386"/><text class="e" x="643" y="1321">N−methyl<tspan x="643" y="1337">alanine</tspan></text></g>
<g id="b-dp1"><path class="ol" fill="#33538C" d="M416,1349l14,14-14,14-14-14z"/><text class="wt" x="416" y="1368.5">P</text><text x="320" y="1345">Streptococcus<tspan x="320" y="1360">phage Dp−1</tspan></text></g>
<g id="b-dopamine"><circle class="ol" cx="568" cy="1378" r="13" fill="#25858E"/><text x="548" y="1409">dopamine<tspan x="548" y="1425">3−O−sulfate</tspan></text></g>
<g id="b-npalm"><circle class="ol" cx="514" cy="1490" r="14" fill="#23898E"/><text x="437" y="1518">N−palmitoyl−phytosphingosine</text></g>

<g id="b-fragilis"><rect class="ol" x="196.5" y="1422.5" width="29" height="29" fill="#7AD151"/><text x="236" y="1434">Bacteroides fragilis:<tspan x="236" y="1450">denovo9506</tspan></text></g>
<g id="b-d4410"><path class="ol" fill="#2E5B88" d="M59,1307l14,14-14,14-14-14z"/><text class="wt" x="59" y="1326.5">P</text><text x="44" y="1297">Lactococcus phage D4410</text></g>
<g id="b-lrm1"><path class="ol" fill="#433E85" d="M75,1410l11,11-11,11-11-11z"/><text class="wt" x="75" y="1425.5" style="font-size:13px">P</text><text x="21" y="1447">Lactobacillus<tspan x="21" y="1462">phage Lrm1</tspan></text></g>
<g id="b-hydroxy"><circle class="ol" cx="136" cy="1540" r="18" fill="#FDE725"/><text x="66" y="1570">2−hydroxysebacate</text></g>
<g id="b-mmc"><circle class="ol" cx="273" cy="1582" r="16" fill="#8BD646"/><text x="300" y="1598">2−methylmalonylcarnitine</text></g>
<g id="b-d4412"><path class="ol" fill="#2E5089" d="M352,1516l14,14-14,14-14-14z"/><text class="wt" x="352" y="1535.5">P</text><text x="340" y="1556">Lactococcus phage D4412</text></g>
</g>
<g id="legend-B">
<text x="663" y="892">Omics</text>
<rect class="lg" x="663" y="908" width="20" height="20"/>
<text x="695" y="923">Bacterial</text>
<path class="lg" d="M673,942l14,14-14,14-14-14z"/>
<text x="695" y="960">Viral</text>
<circle class="lg" cx="673" cy="999" r="11"/>
<text x="695" y="994">Metabolic<tspan x="695" y="1010">subpathway</tspan></text>
<text x="663" y="1043">Viral host</text>
<path class="lg" d="M677,1061l13,13-13,13-13-13z"/>
<text class="m" x="677" y="1079">P</text>
<text x="694" y="1077">Phages</text>
<path class="lg" d="M677,1099l13,13-13,13-13-13z"/>
<text class="m" x="677" y="1117">V</text>
<text x="694" y="1117">Vertebrates</text>
<text x="663" y="1155">Correlations<tspan x="663" y="1171">Spearman's ρ</tspan></text>
<rect x="667" y="1190" width="21" height="102" fill="url(#rb)"/>
<g stroke="#000" stroke-width="1.2">
<line x1="667" y1="1193" x2="671" y2="1193"/><line x1="684" y1="1193" x2="688" y2="1193"/>
<line x1="667" y1="1217" x2="671" y2="1217"/><line x1="684" y1="1217" x2="688" y2="1217"/>
<line x1="667" y1="1241" x2="671" y2="1241"/><line x1="684" y1="1241" x2="688" y2="1241"/>
<line x1="667" y1="1265" x2="671" y2="1265"/><line x1="684" y1="1265" x2="688" y2="1265"/>
<line x1="667" y1="1289" x2="671" y2="1289"/><line x1="684" y1="1289" x2="688" y2="1289"/>
</g>
<text x="696" y="1198">0.4</text>
<text x="696" y="1222">0.2</text>
<text x="696" y="1246">0.0</text>
<text x="696" y="1270">-0.2</text>
<text x="696" y="1294">-0.4</text>
<text x="663" y="1323">Modules of<tspan x="663" y="1338">correlated</tspan><tspan x="663" y="1354">variables</tspan></text>
<ellipse class="bg" cx="686" cy="1387" rx="15" ry="17"/>
<text x="663" y="1434">Scaled<tspan x="663" y="1450">module</tspan><tspan x="663" y="1465">contribution</tspan></text>
<circle class="lg" cx="683" cy="1495" r="18"/>
<circle class="lg" cx="683" cy="1593" r="4.5"/>
<g stroke="#666" stroke-width="1" stroke-dasharray="1.5,1.5">
<line x1="666" y1="1501" x2="679" y2="1592"/>
<line x1="700" y1="1501" x2="687" y2="1592"/>
</g>
<rect x="712" y="1496" width="20" height="100" fill="url(#vir)"/>
<g stroke="#fff" stroke-width="1.2">
<line x1="712" y1="1494" x2="716" y2="1494"/><line x1="728" y1="1494" x2="732" y2="1494"/>
<line x1="712" y1="1520" x2="716" y2="1520"/><line x1="728" y1="1520" x2="732" y2="1520"/>
<line x1="712" y1="1546" x2="716" y2="1546"/><line x1="728" y1="1546" x2="732" y2="1546"/>
<line x1="712" y1="1572" x2="716" y2="1572"/><line x1="728" y1="1572" x2="732" y2="1572"/>
</g>
<text x="737" y="1499">1.00</text>
<text x="737" y="1525">0.75</text>
<text x="737" y="1551">0.50</text>
<text x="737" y="1577">0.25</text>
</g>
</g>

<!-- ===== Panel C ===== -->
<g id="panel-C">
<text class="hd" x="792" y="889">C</text>
<rect x="980" y="899" width="200" height="203" fill="#fff"/>
<g class="grid">
<line x1="1026" y1="899" x2="1026" y2="1102"/><line x1="1072" y1="899" x2="1072" y2="1102"/><line x1="1115" y1="899" x2="1115" y2="1102"/>
<line x1="980" y1="935" x2="1154" y2="935"/><line x1="980" y1="982" x2="1154" y2="982"/><line x1="980" y1="1028" x2="1154" y2="1028"/><line x1="980" y1="1074" x2="1154" y2="1074"/>
</g>
<rect x="980" y="899" width="200" height="203" fill="none" stroke="#000" stroke-width="2"/>
<g stroke="#000" stroke-width="2">
<line x1="975" y1="935" x2="980" y2="935"/><line x1="975" y1="982" x2="980" y2="982"/><line x1="975" y1="1028" x2="980" y2="1028"/><line x1="975" y1="1074" x2="980" y2="1074"/>
<line x1="1026" y1="1102" x2="1026" y2="1107"/><line x1="1072" y1="1102" x2="1072" y2="1107"/><line x1="1115" y1="1102" x2="1115" y2="1107"/>
</g>
<circle cx="1026" cy="935" r="10" fill="#990000"/>
<circle cx="1072" cy="982" r="10" fill="#FEE5D9"/>
<circle cx="1026" cy="1028" r="3.5" fill="#E8302A"/>
<circle cx="1115" cy="1074" r="14" fill="#FB6A4A"/>
<text class="e" x="963" y="940">Phospholipid Metabolism</text>
<text class="e" x="968" y="987">Pentose Metabolism</text>
<text class="e" x="969" y="1033">Lysophospholipid</text>
<text class="e" x="965" y="1070">Fatty Acid Metabolism<tspan x="965" y="1086">(also BCAA Metabolism)</tspan></text>
<text class="e" transform="translate(1028,1117) rotate(-45)">Bacteroides sp. DJF_B097:<tspan x="0" y="15">denovo3073</tspan></text>
<text class="e" transform="translate(1074,1117) rotate(-45)">Prevotella sp. DJF_RP53:<tspan x="0" y="15">denovo9260</tspan></text>
<text class="e" transform="translate(1117,1117) rotate(-45)">Bacteroides fragilis:<tspan x="0" y="15">denovo9506</tspan></text>
<text x="798" y="1135">p-value</text>
<rect x="854" y="1122" width="86" height="21" fill="url(#pv)"/>
<g stroke="#000" stroke-width="1.2">
<line x1="868" y1="1122" x2="868" y2="1126"/><line x1="868" y1="1139" x2="868" y2="1143"/>
<line x1="886" y1="1122" x2="886" y2="1126"/><line x1="886" y1="1139" x2="886" y2="1143"/>
<line x1="904" y1="1122" x2="904" y2="1126"/><line x1="904" y1="1139" x2="904" y2="1143"/>
<line x1="922" y1="1122" x2="922" y2="1126"/><line x1="922" y1="1139" x2="922" y2="1143"/>
</g>
<text class="m" x="868" y="1117">0.02</text>
<text class="m" x="922" y="1117">0.005</text>
<text x="799" y="1173">EF</text>
<text x="829" y="1173">20</text>
<circle cx="857" cy="1167" r="4" fill="#fff" stroke="#000" stroke-width="1.5"/>
<circle cx="897" cy="1167" r="13" fill="#fff" stroke="#000" stroke-width="1.5"/>
<g stroke="#888" stroke-width="1" stroke-dasharray="1.5,1.5">
<line x1="858" y1="1163" x2="893" y2="1155"/>
<line x1="858" y1="1171" x2="893" y2="1179"/>
</g>
<text x="914" y="1173">184</text>
</g>

<!-- ===== Panel D ===== -->
<g id="panel-D">
<text class="hd" x="792" y="1283">D</text>
<rect x="980" y="1282" width="200" height="167" fill="#fff"/>
<g class="grid">
<line x1="1025" y1="1282" x2="1025" y2="1449"/><line x1="1071" y1="1282" x2="1071" y2="1449"/><line x1="1115" y1="1282" x2="1115" y2="1449"/>
<line x1="980" y1="1305" x2="1154" y2="1305"/><line x1="980" y1="1336" x2="1154" y2="1336"/><line x1="980" y1="1366" x2="1154" y2="1366"/><line x1="980" y1="1397" x2="1154" y2="1397"/><line x1="980" y1="1427" x2="1154" y2="1427"/>
</g>
<rect x="1004" y="1293" width="42" height="24" fill="#FEE3D8"/>
<rect x="1050" y="1324" width="42" height="24" fill="#FEE3D8"/>
<rect x="1050" y="1354" width="42" height="24" fill="#FEE3D8"/>
<rect x="1094" y="1385" width="42" height="24" fill="#FEE3D8"/>
<rect x="1094" y="1415" width="42" height="24" fill="#A50F15"/>
<text class="m s18" x="1025" y="1312">1</text>
<text class="m s18" x="1071" y="1343">1</text>
<text class="m s18" x="1071" y="1373">1</text>
<text class="m s18" x="1115" y="1404">1</text>
<text class="m s18" x="1115" y="1434" style="fill:#fff">2</text>
<rect x="980" y="1282" width="200" height="167" fill="none" stroke="#000" stroke-width="2"/>
<g stroke="#000" stroke-width="2">
<line x1="975" y1="1305" x2="980" y2="1305"/><line x1="975" y1="1336" x2="980" y2="1336"/><line x1="975" y1="1366" x2="980" y2="1366"/><line x1="975" y1="1397" x2="980" y2="1397"/><line x1="975" y1="1427" x2="980" y2="1427"/>
<line x1="1025" y1="1449" x2="1025" y2="1454"/><line x1="1071" y1="1449" x2="1071" y2="1454"/><line x1="1115" y1="1449" x2="1115" y2="1454"/>
</g>
<text class="e" x="964" y="1309">unclassified Siphoviridae</text>
<text class="e" x="964" y="1341">Sandinevirus</text>
<text class="e" x="964" y="1370">Pepyhexavirus</text>
<text class="e" x="963" y="1402">Larmunavirus</text>
<text class="e" x="965" y="1432">Ceduovirus</text>
<text class="e" transform="translate(1027,1464) rotate(-45)">Bacteroides sp. DJF_B097:<tspan x="0" y="15">denovo3073</tspan></text>
<text class="e" transform="translate(1073,1464) rotate(-45)">Prevotella sp. DJF_RP53:<tspan x="0" y="15">denovo9260</tspan></text>
<text class="e" transform="translate(1117,1464) rotate(-45)">Bacteroides fragilis:<tspan x="0" y="15">denovo9506</tspan></text>
<text class="e" x="890" y="1470">n viral genus<tspan x="890" y="1486">associated</tspan><tspan x="890" y="1501">with OTU</tspan></text>
<rect x="898" y="1470" width="43" height="22" fill="url(#nv)"/>
<text class="m" x="898" y="1467">1</text>
<text class="m" x="940" y="1467">2</text>
</g>
</svg>
